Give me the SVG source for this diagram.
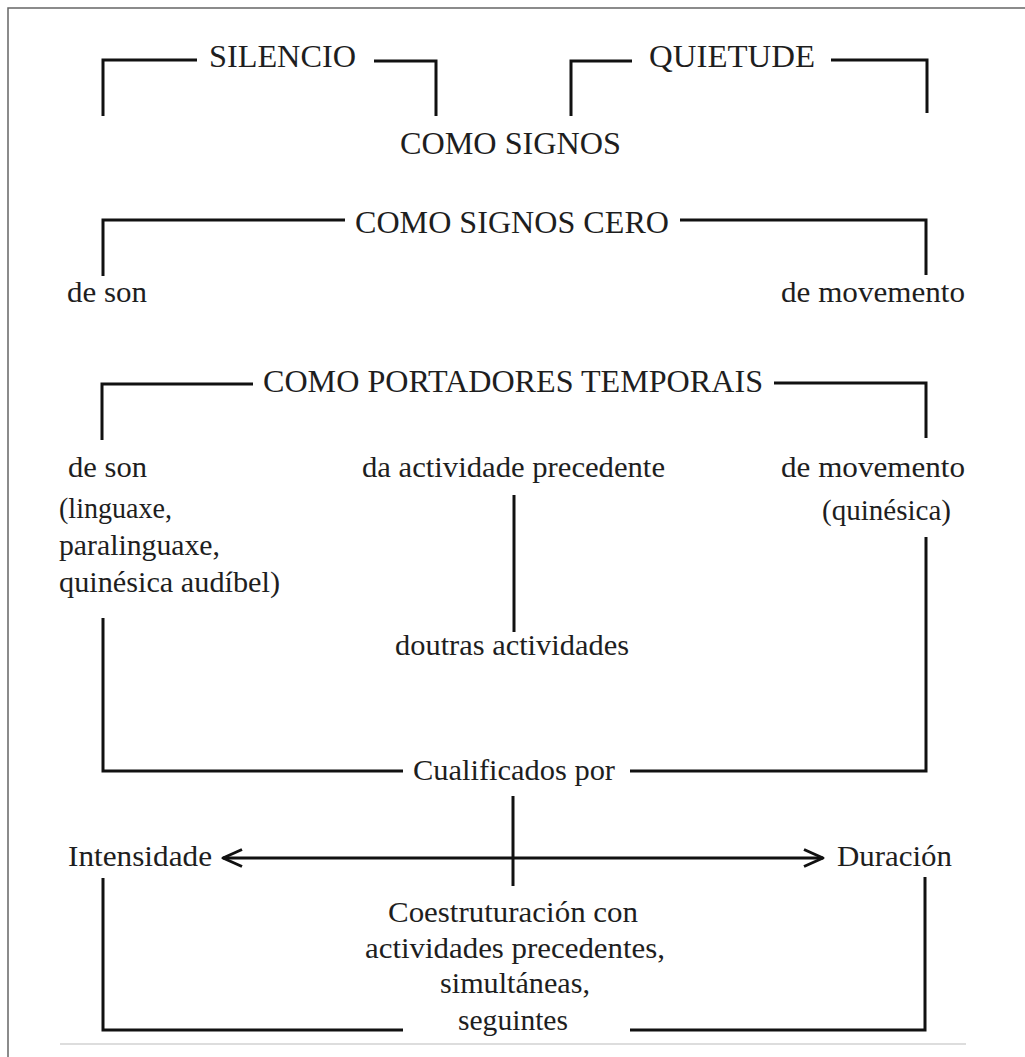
<svg xmlns="http://www.w3.org/2000/svg" width="1025" height="1057" viewBox="0 0 1025 1057">
<style>
text{font-family:"Liberation Serif","Times New Roman",serif;font-size:30px;fill:#1e1e1e}
.caps{font-size:32px}
.ln{fill:none;stroke:#111;stroke-width:3;stroke-linejoin:miter;stroke-linecap:butt}
.frame{fill:none;stroke:#666;stroke-width:1.5}
</style>
<defs>
<marker id="chev" viewBox="-22 -11 24 22" refX="0" refY="0" markerWidth="24" markerHeight="22" markerUnits="userSpaceOnUse" orient="auto-start-reverse">
<path d="M-19,-8.5 L0,0 L-19,8.5" fill="none" stroke="#111" stroke-width="3" stroke-linejoin="round"/>
</marker>
</defs>
<rect width="1025" height="1057" fill="#fff"/>
<path class="frame" d="M8,1057 V8 H1025"/>
<line x1="60" y1="1044" x2="966" y2="1044" stroke="#ddd" stroke-width="2"/>

<g id="connectors">
<path class="ln" d="M103,116 V60 H197"/>
<path class="ln" d="M374,61 H436 V116"/>
<path class="ln" d="M571,116 V61 H632"/>
<path class="ln" d="M831,60 H927 V113"/>
<path class="ln" d="M103,276 V220 H345"/>
<path class="ln" d="M680,220 H926 V275"/>
<path class="ln" d="M102,440 V384 H253"/>
<path class="ln" d="M774,383 H926 V438"/>
<path class="ln" d="M514,495 V632"/>
<path class="ln" d="M103,618 V771 H403"/>
<path class="ln" d="M630,771 H926 V537"/>
<path class="ln" d="M513,796 V886"/>
<line class="ln" x1="223" y1="858" x2="823" y2="858" marker-start="url(#chev)" marker-end="url(#chev)"/>
<path class="ln" d="M103,878 V1030 H403"/>
<path class="ln" d="M630,1030 H925 V877"/>
</g>

<g id="silencio"><text class="caps" x="209" y="67" textLength="147" lengthAdjust="spacingAndGlyphs">SILENCIO</text></g>
<g id="quietude"><text class="caps" x="649" y="67" textLength="166" lengthAdjust="spacingAndGlyphs">QUIETUDE</text></g>
<g id="como-signos"><text class="caps" x="400" y="154" textLength="221" lengthAdjust="spacingAndGlyphs">COMO SIGNOS</text></g>
<g id="como-signos-cero"><text class="caps" x="355" y="233" textLength="314" lengthAdjust="spacingAndGlyphs">COMO SIGNOS CERO</text></g>
<g id="cero-son"><text x="67" y="302" textLength="80" lengthAdjust="spacingAndGlyphs">de son</text></g>
<g id="cero-movemento"><text x="781" y="302" textLength="184" lengthAdjust="spacingAndGlyphs">de movemento</text></g>
<g id="portadores"><text class="caps" x="263" y="392" textLength="500" lengthAdjust="spacingAndGlyphs">COMO PORTADORES TEMPORAIS</text></g>
<g id="port-son">
<text x="68" y="477" textLength="79" lengthAdjust="spacingAndGlyphs">de son</text>
<text x="59" y="518" textLength="113" lengthAdjust="spacingAndGlyphs">(linguaxe,</text>
<text x="59" y="555" textLength="161" lengthAdjust="spacingAndGlyphs">paralinguaxe,</text>
<text x="59" y="592" textLength="221" lengthAdjust="spacingAndGlyphs">quinésica audíbel)</text>
</g>
<g id="precedente"><text x="362" y="477" textLength="303" lengthAdjust="spacingAndGlyphs">da actividade precedente</text></g>
<g id="port-movemento">
<text x="781" y="477" textLength="184" lengthAdjust="spacingAndGlyphs">de movemento</text>
<text x="822" y="520" textLength="129" lengthAdjust="spacingAndGlyphs">(quinésica)</text>
</g>
<g id="doutras"><text x="395" y="655" textLength="234" lengthAdjust="spacingAndGlyphs">doutras actividades</text></g>
<g id="cualificados"><text x="413" y="780" textLength="202" lengthAdjust="spacingAndGlyphs">Cualificados por</text></g>
<g id="intensidade"><text x="68" y="866" textLength="144" lengthAdjust="spacingAndGlyphs">Intensidade</text></g>
<g id="duracion"><text x="837" y="866" textLength="115" lengthAdjust="spacingAndGlyphs">Duración</text></g>
<g id="coestruturacion">
<text x="388" y="922" textLength="250" lengthAdjust="spacingAndGlyphs">Coestruturación con</text>
<text x="365" y="958" textLength="300" lengthAdjust="spacingAndGlyphs">actividades precedentes,</text>
<text x="440" y="993" textLength="150" lengthAdjust="spacingAndGlyphs">simultáneas,</text>
<text x="458" y="1030" textLength="110" lengthAdjust="spacingAndGlyphs">seguintes</text>
</g>
</svg>
